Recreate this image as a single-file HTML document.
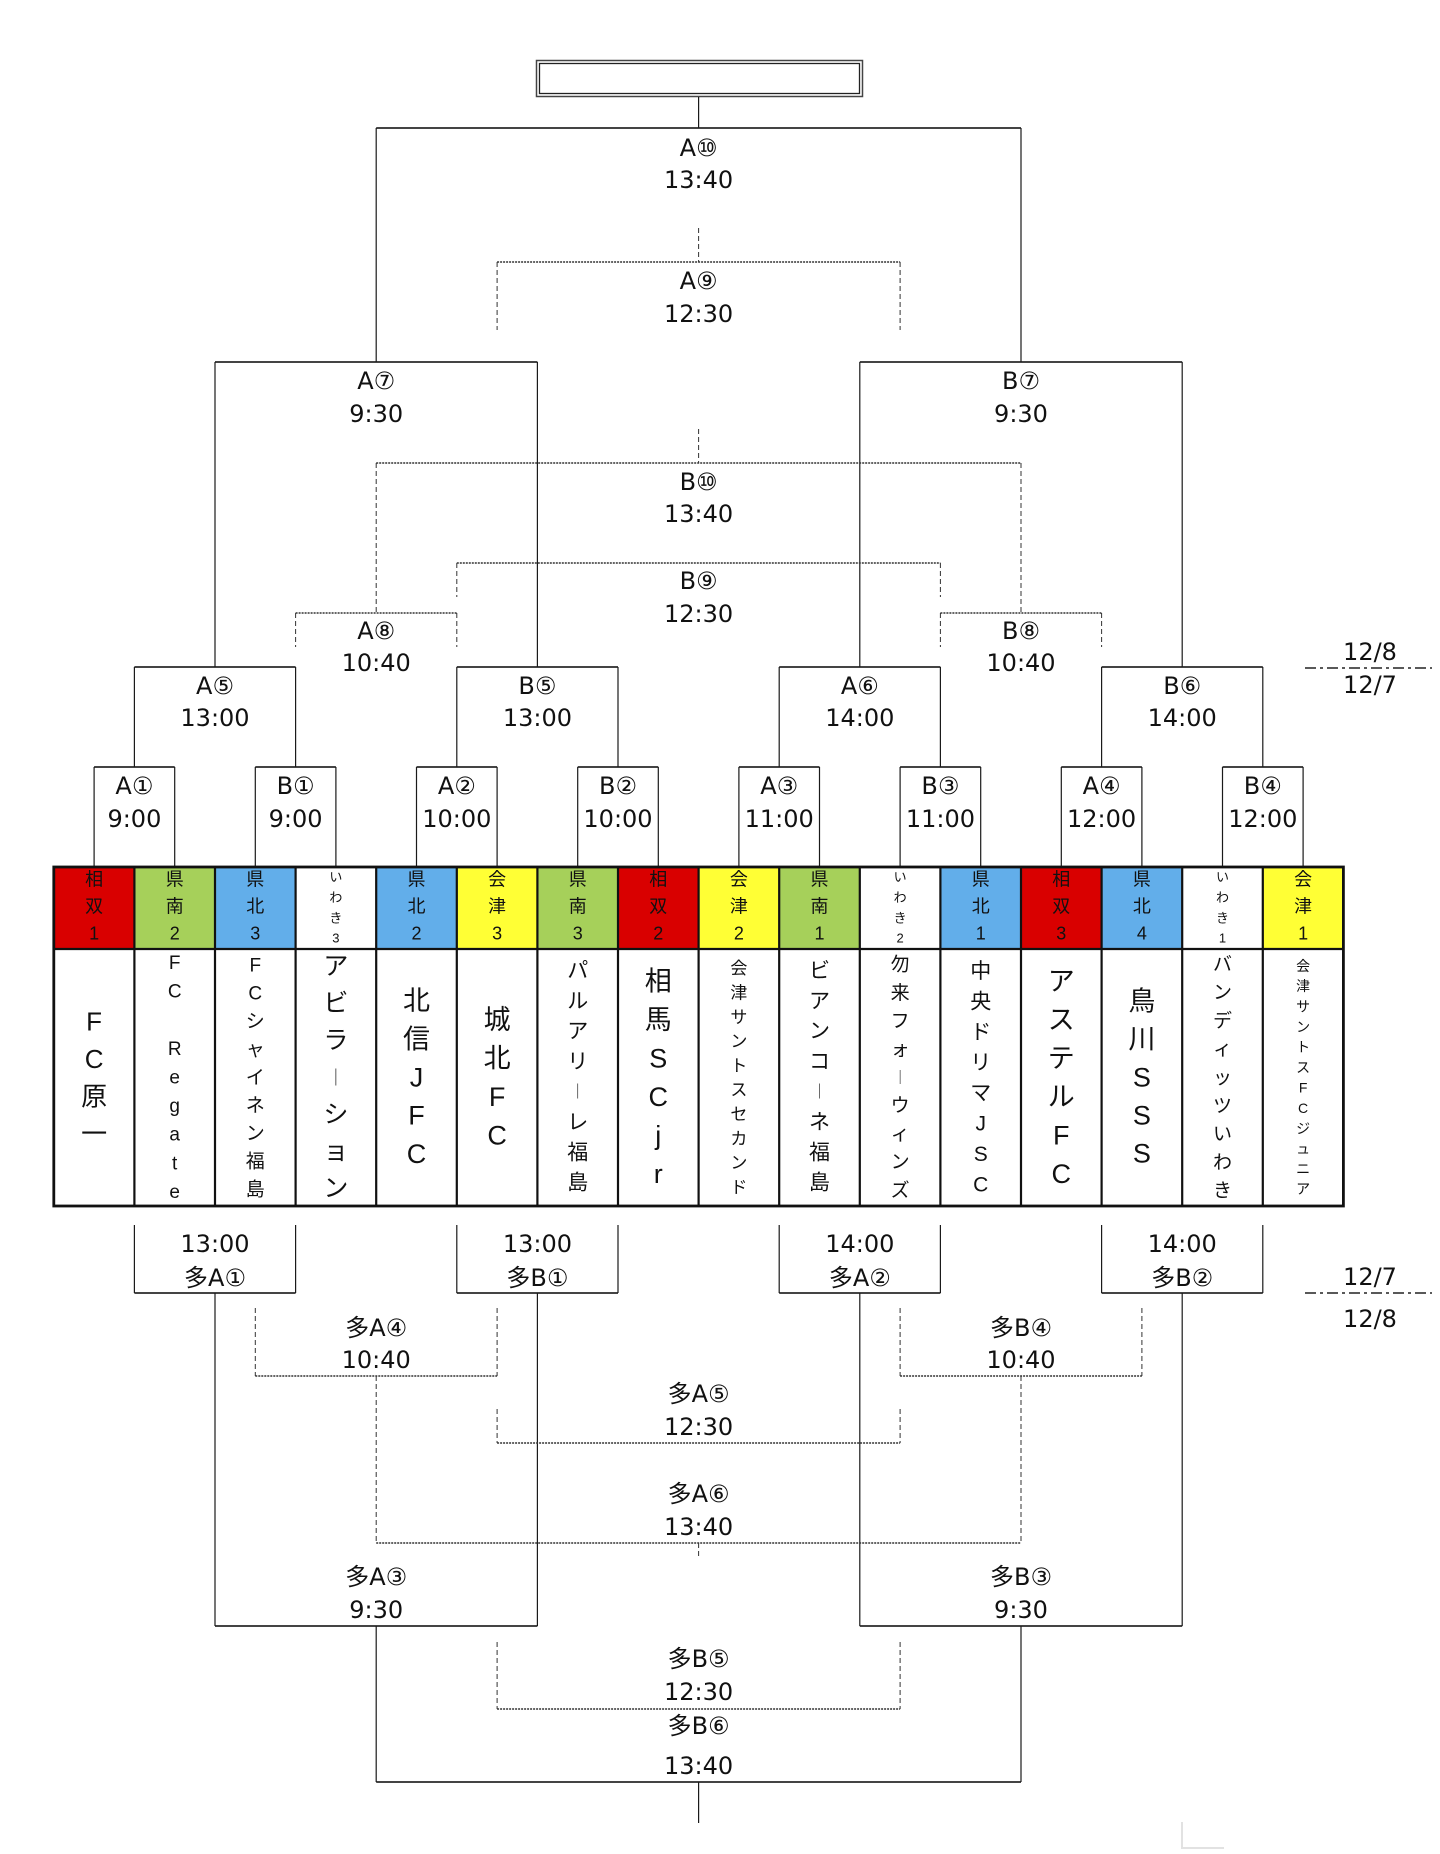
<!DOCTYPE html>
<html><head><meta charset="utf-8"><style>
html,body{margin:0;padding:0;background:#fff;}
svg{display:block;}
.l{font-family:"DejaVu Sans","Noto Sans CJK JP",sans-serif;font-size:24px;fill:#111;text-anchor:middle;}
.h{font-family:"Liberation Sans","Noto Sans CJK JP",sans-serif;font-size:18px;fill:#111;text-anchor:middle;dominant-baseline:central;}
.hs{font-family:"Liberation Sans","Noto Sans CJK JP",sans-serif;font-size:13px;fill:#111;text-anchor:middle;dominant-baseline:central;}
.t{font-family:"Liberation Sans","Noto Sans CJK JP",sans-serif;fill:#111;text-anchor:middle;dominant-baseline:central;}
</style></head><body>
<svg width="1440" height="1854" viewBox="0 0 1440 1854" xmlns="http://www.w3.org/2000/svg">
<rect x="0" y="0" width="1440" height="1854" fill="#fff"/>
<!-- top box -->
<rect x="536.5" y="60.5" width="326" height="36" fill="none" stroke="#444" stroke-width="1.5"/>
<rect x="539.5" y="63.5" width="320" height="30" fill="none" stroke="#222" stroke-width="1.3"/>
<!-- solid horizontals -->
<path fill="none" stroke="#2a2a2a" stroke-width="1.8" d="M376.2 128H1021 M215 362H537.4 M859.8 362H1182.2 M134.4 667H295.6 M456.8 667H618 M779.2 667H940.4 M1101.6 667H1262.8 M94.1 767H174.7 M255.3 767H335.9 M416.5 767H497.1 M577.7 767H658.3 M738.9 767H819.5 M900.1 767H980.7 M1061.3 767H1141.9 M1222.5 767H1303.1 M134.4 1293H295.6 M456.8 1293H618 M779.2 1293H940.4 M1101.6 1293H1262.8 M215 1626H537.4 M859.8 1626H1182.2 M376.2 1782H1021"/>
<!-- solid verticals -->
<path fill="none" stroke="#1a1a1a" stroke-width="1.2" d="M698.6 97V128 M376.2 128V362 M1021 128V362 M215 362V667 M537.4 362V667 M859.8 362V667 M1182.2 362V667 M134.4 667V767 M295.6 667V767 M456.8 667V767 M618 667V767 M779.2 667V767 M940.4 667V767 M1101.6 667V767 M1262.8 667V767 M94.1 767V866 M174.7 767V866 M255.3 767V866 M335.9 767V866 M416.5 767V866 M497.1 767V866 M577.7 767V866 M658.3 767V866 M738.9 767V866 M819.5 767V866 M900.1 767V866 M980.7 767V866 M1061.3 767V866 M1141.9 767V866 M1222.5 767V866 M1303.1 767V866 M134.4 1225V1293 M295.6 1225V1293 M456.8 1225V1293 M618 1225V1293 M779.2 1225V1293 M940.4 1225V1293 M1101.6 1225V1293 M1262.8 1225V1293 M215 1293V1626 M537.4 1293V1626 M859.8 1293V1626 M1182.2 1293V1626 M376.2 1626V1782 M1021 1626V1782 M698.6 1782V1823"/>
<!-- dashed horizontals -->
<path fill="none" stroke="#333" stroke-width="1.6" stroke-dasharray="2 1" d="M497.1 262H900.1 M376.2 463H1021 M456.8 563H940.4 M295.6 613H456.8 M940.4 613H1101.6 M255.3 1376H497.1 M900.1 1376H1141.9 M497.1 1443H900.1 M376.2 1543H1021 M497.1 1709H900.1"/>
<!-- dashed verticals -->
<path fill="none" stroke="#333" stroke-width="1" stroke-dasharray="5 3" d="M698.6 228V262 M497.1 262V330 M900.1 262V330 M698.6 429V463 M376.2 463V613 M1021 463V613 M456.8 563V597 M940.4 563V597 M295.6 613V647 M456.8 613V647 M940.4 613V647 M1101.6 613V647 M255.3 1308V1376 M497.1 1308V1376 M900.1 1308V1376 M1141.9 1308V1376 M376.2 1376V1543 M1021 1376V1543 M497.1 1409V1443 M900.1 1409V1443 M698.6 1543V1559 M497.1 1642V1709 M900.1 1642V1709"/>
<!-- date separators -->
<path fill="none" stroke="#222" stroke-width="1.6" stroke-dasharray="11 4 3 4" d="M1305 668H1432 M1305 1293H1432"/>
<path fill="none" stroke="#e2e2e2" stroke-width="2" d="M1182 1822V1848H1224"/>

<!-- labels upper -->
<text class="l" x="698.6" y="156">A⑩</text><text class="l" x="698.6" y="188">13:40</text>
<text class="l" x="698.6" y="289">A⑨</text><text class="l" x="698.6" y="322">12:30</text>
<text class="l" x="376.2" y="389">A⑦</text><text class="l" x="376.2" y="422">9:30</text>
<text class="l" x="1021" y="389">B⑦</text><text class="l" x="1021" y="422">9:30</text>
<text class="l" x="698.6" y="490">B⑩</text><text class="l" x="698.6" y="522">13:40</text>
<text class="l" x="698.6" y="589">B⑨</text><text class="l" x="698.6" y="622">12:30</text>
<text class="l" x="376.2" y="639">A⑧</text><text class="l" x="376.2" y="671">10:40</text>
<text class="l" x="1021" y="639">B⑧</text><text class="l" x="1021" y="671">10:40</text>
<text class="l" x="215" y="694">A⑤</text><text class="l" x="215" y="726">13:00</text>
<text class="l" x="537.4" y="694">B⑤</text><text class="l" x="537.4" y="726">13:00</text>
<text class="l" x="859.8" y="694">A⑥</text><text class="l" x="859.8" y="726">14:00</text>
<text class="l" x="1182.2" y="694">B⑥</text><text class="l" x="1182.2" y="726">14:00</text>
<text class="l" x="134.4" y="794">A①</text><text class="l" x="134.4" y="827">9:00</text>
<text class="l" x="295.6" y="794">B①</text><text class="l" x="295.6" y="827">9:00</text>
<text class="l" x="456.8" y="794">A②</text><text class="l" x="456.8" y="827">10:00</text>
<text class="l" x="618" y="794">B②</text><text class="l" x="618" y="827">10:00</text>
<text class="l" x="779.2" y="794">A③</text><text class="l" x="779.2" y="827">11:00</text>
<text class="l" x="940.4" y="794">B③</text><text class="l" x="940.4" y="827">11:00</text>
<text class="l" x="1101.6" y="794">A④</text><text class="l" x="1101.6" y="827">12:00</text>
<text class="l" x="1262.8" y="794">B④</text><text class="l" x="1262.8" y="827">12:00</text>
<text class="l" x="1370" y="660">12/8</text><text class="l" x="1370" y="693">12/7</text>

<!-- labels lower -->
<text class="l" x="215" y="1252">13:00</text><text class="l" x="215" y="1286">多A①</text>
<text class="l" x="537.4" y="1252">13:00</text><text class="l" x="537.4" y="1286">多B①</text>
<text class="l" x="859.8" y="1252">14:00</text><text class="l" x="859.8" y="1286">多A②</text>
<text class="l" x="1182.2" y="1252">14:00</text><text class="l" x="1182.2" y="1286">多B②</text>
<text class="l" x="376.2" y="1336">多A④</text><text class="l" x="376.2" y="1368">10:40</text>
<text class="l" x="1021" y="1336">多B④</text><text class="l" x="1021" y="1368">10:40</text>
<text class="l" x="698.6" y="1402">多A⑤</text><text class="l" x="698.6" y="1435">12:30</text>
<text class="l" x="698.6" y="1502">多A⑥</text><text class="l" x="698.6" y="1535">13:40</text>
<text class="l" x="376.2" y="1585">多A③</text><text class="l" x="376.2" y="1618">9:30</text>
<text class="l" x="1021" y="1585">多B③</text><text class="l" x="1021" y="1618">9:30</text>
<text class="l" x="698.6" y="1667">多B⑤</text><text class="l" x="698.6" y="1700">12:30</text>
<text class="l" x="698.6" y="1734">多B⑥</text><text class="l" x="698.6" y="1774">13:40</text>
<text class="l" x="1370" y="1285">12/7</text><text class="l" x="1370" y="1327">12/8</text>

<!-- table header fills -->
<rect x="53.8" y="867" width="80.6" height="82" fill="#d90000"/>
<rect x="134.4" y="867" width="80.6" height="82" fill="#a6d05a"/>
<rect x="215" y="867" width="80.6" height="82" fill="#62aeea"/>
<rect x="295.6" y="867" width="80.6" height="82" fill="#fff"/>
<rect x="376.2" y="867" width="80.6" height="82" fill="#62aeea"/>
<rect x="456.8" y="867" width="80.6" height="82" fill="#ffff35"/>
<rect x="537.4" y="867" width="80.6" height="82" fill="#a6d05a"/>
<rect x="618" y="867" width="80.6" height="82" fill="#d90000"/>
<rect x="698.6" y="867" width="80.6" height="82" fill="#ffff35"/>
<rect x="779.2" y="867" width="80.6" height="82" fill="#a6d05a"/>
<rect x="859.8" y="867" width="80.6" height="82" fill="#fff"/>
<rect x="940.4" y="867" width="80.6" height="82" fill="#62aeea"/>
<rect x="1021" y="867" width="80.6" height="82" fill="#d90000"/>
<rect x="1101.6" y="867" width="80.6" height="82" fill="#62aeea"/>
<rect x="1182.2" y="867" width="80.6" height="82" fill="#fff"/>
<rect x="1262.8" y="867" width="80.6" height="82" fill="#ffff35"/>
<!-- table grid -->
<path fill="none" stroke="#111" stroke-width="2.2" d="M53.8 949H1343.4 M134.4 867V1206 M215 867V1206 M295.6 867V1206 M376.2 867V1206 M456.8 867V1206 M537.4 867V1206 M618 867V1206 M698.6 867V1206 M779.2 867V1206 M859.8 867V1206 M940.4 867V1206 M1021 867V1206 M1101.6 867V1206 M1182.2 867V1206 M1262.8 867V1206"/>
<rect x="53.8" y="867" width="1289.6" height="339" fill="none" stroke="#111" stroke-width="2.8"/>

<!-- header texts -->
<text class="h"><tspan x="94.1" y="879.5">相</tspan><tspan x="94.1" y="906.5">双</tspan><tspan x="94.1" y="933.5">1</tspan></text>
<text class="h"><tspan x="174.7" y="879.5">県</tspan><tspan x="174.7" y="906.5">南</tspan><tspan x="174.7" y="933.5">2</tspan></text>
<text class="h"><tspan x="255.3" y="879.5">県</tspan><tspan x="255.3" y="906.5">北</tspan><tspan x="255.3" y="933.5">3</tspan></text>
<text class="hs"><tspan x="335.9" y="876.7">い</tspan><tspan x="335.9" y="897">わ</tspan><tspan x="335.9" y="917.5">き</tspan><tspan x="335.9" y="937.5">3</tspan></text>
<text class="h"><tspan x="416.5" y="879.5">県</tspan><tspan x="416.5" y="906.5">北</tspan><tspan x="416.5" y="933.5">2</tspan></text>
<text class="h"><tspan x="497.1" y="879.5">会</tspan><tspan x="497.1" y="906.5">津</tspan><tspan x="497.1" y="933.5">3</tspan></text>
<text class="h"><tspan x="577.7" y="879.5">県</tspan><tspan x="577.7" y="906.5">南</tspan><tspan x="577.7" y="933.5">3</tspan></text>
<text class="h"><tspan x="658.3" y="879.5">相</tspan><tspan x="658.3" y="906.5">双</tspan><tspan x="658.3" y="933.5">2</tspan></text>
<text class="h"><tspan x="738.9" y="879.5">会</tspan><tspan x="738.9" y="906.5">津</tspan><tspan x="738.9" y="933.5">2</tspan></text>
<text class="h"><tspan x="819.5" y="879.5">県</tspan><tspan x="819.5" y="906.5">南</tspan><tspan x="819.5" y="933.5">1</tspan></text>
<text class="hs"><tspan x="900.1" y="876.7">い</tspan><tspan x="900.1" y="897">わ</tspan><tspan x="900.1" y="917.5">き</tspan><tspan x="900.1" y="937.5">2</tspan></text>
<text class="h"><tspan x="980.7" y="879.5">県</tspan><tspan x="980.7" y="906.5">北</tspan><tspan x="980.7" y="933.5">1</tspan></text>
<text class="h"><tspan x="1061.3" y="879.5">相</tspan><tspan x="1061.3" y="906.5">双</tspan><tspan x="1061.3" y="933.5">3</tspan></text>
<text class="h"><tspan x="1141.9" y="879.5">県</tspan><tspan x="1141.9" y="906.5">北</tspan><tspan x="1141.9" y="933.5">4</tspan></text>
<text class="hs"><tspan x="1222.5" y="876.7">い</tspan><tspan x="1222.5" y="897">わ</tspan><tspan x="1222.5" y="917.5">き</tspan><tspan x="1222.5" y="937.5">1</tspan></text>
<text class="h"><tspan x="1303.1" y="879.5">会</tspan><tspan x="1303.1" y="906.5">津</tspan><tspan x="1303.1" y="933.5">1</tspan></text>

<!-- team names -->
<text class="t" style="font-size:26px"><tspan x="94.1" y="1021.3">F</tspan><tspan x="94.1" y="1058.8">C</tspan><tspan x="94.1" y="1096.3">原</tspan><tspan x="94.1" y="1133.8">一</tspan></text>
<text class="t" style="font-size:19px"><tspan x="174.7" y="963.1">F</tspan><tspan x="174.7" y="991.7">C</tspan><tspan x="174.7" y="1048.9">R</tspan><tspan x="174.7" y="1077.5">e</tspan><tspan x="174.7" y="1106.1">g</tspan><tspan x="174.7" y="1134.7">a</tspan><tspan x="174.7" y="1163.3">t</tspan><tspan x="174.7" y="1191.9">e</tspan></text>
<text class="t" style="font-size:19px"><tspan x="255.3" y="965.5">F</tspan><tspan x="255.3" y="993.5">C</tspan><tspan x="255.3" y="1021.5">シ</tspan><tspan x="255.3" y="1049.5">ャ</tspan><tspan x="255.3" y="1077.5">イ</tspan><tspan x="255.3" y="1105.5">ネ</tspan><tspan x="255.3" y="1133.5">ン</tspan><tspan x="255.3" y="1161.5">福</tspan><tspan x="255.3" y="1189.5">島</tspan></text>
<text class="t" style="font-size:25px"><tspan x="335.9" y="966.5">ア</tspan><tspan x="335.9" y="1003.5">ビ</tspan><tspan x="335.9" y="1040.5">ラ</tspan><tspan x="335.9" y="1077.5" style="font-size:17px">｜</tspan><tspan x="335.9" y="1114.5">シ</tspan><tspan x="335.9" y="1151.5">ョ</tspan><tspan x="335.9" y="1188.5">ン</tspan></text>
<text class="t" style="font-size:27px"><tspan x="416.5" y="1001.1">北</tspan><tspan x="416.5" y="1039.3">信</tspan><tspan x="416.5" y="1077.5">J</tspan><tspan x="416.5" y="1115.7">F</tspan><tspan x="416.5" y="1153.9">C</tspan></text>
<text class="t" style="font-size:27px"><tspan x="497.1" y="1019.8">城</tspan><tspan x="497.1" y="1058.3">北</tspan><tspan x="497.1" y="1096.8">F</tspan><tspan x="497.1" y="1135.3">C</tspan></text>
<text class="t" style="font-size:21px"><tspan x="577.7" y="970.5">パ</tspan><tspan x="577.7" y="1000.8">ル</tspan><tspan x="577.7" y="1031.1">ア</tspan><tspan x="577.7" y="1061.4">リ</tspan><tspan x="577.7" y="1091.7" style="font-size:15px">｜</tspan><tspan x="577.7" y="1122">レ</tspan><tspan x="577.7" y="1152.3">福</tspan><tspan x="577.7" y="1182.6">島</tspan></text>
<text class="t" style="font-size:27px"><tspan x="658.3" y="981.3">相</tspan><tspan x="658.3" y="1019.8">馬</tspan><tspan x="658.3" y="1058.3">S</tspan><tspan x="658.3" y="1096.8">C</tspan><tspan x="658.3" y="1135.3">j</tspan><tspan x="658.3" y="1173.8">r</tspan></text>
<text class="t" style="font-size:17px"><tspan x="738.9" y="968.2">会</tspan><tspan x="738.9" y="992.5">津</tspan><tspan x="738.9" y="1016.8">サ</tspan><tspan x="738.9" y="1041.1">ン</tspan><tspan x="738.9" y="1065.4">ト</tspan><tspan x="738.9" y="1089.7">ス</tspan><tspan x="738.9" y="1114">セ</tspan><tspan x="738.9" y="1138.3">カ</tspan><tspan x="738.9" y="1162.6">ン</tspan><tspan x="738.9" y="1186.9">ド</tspan></text>
<text class="t" style="font-size:21px"><tspan x="819.5" y="970.5">ビ</tspan><tspan x="819.5" y="1000.8">ア</tspan><tspan x="819.5" y="1031.1">ン</tspan><tspan x="819.5" y="1061.4">コ</tspan><tspan x="819.5" y="1091.7" style="font-size:15px">｜</tspan><tspan x="819.5" y="1122">ネ</tspan><tspan x="819.5" y="1152.3">福</tspan><tspan x="819.5" y="1182.6">島</tspan></text>
<text class="t" style="font-size:19px"><tspan x="900.1" y="964.7">勿</tspan><tspan x="900.1" y="992.9">来</tspan><tspan x="900.1" y="1021.1">フ</tspan><tspan x="900.1" y="1049.3">ォ</tspan><tspan x="900.1" y="1077.5" style="font-size:14px">｜</tspan><tspan x="900.1" y="1105.7">ウ</tspan><tspan x="900.1" y="1133.9">ィ</tspan><tspan x="900.1" y="1162.1">ン</tspan><tspan x="900.1" y="1190.3">ズ</tspan></text>
<text class="t" style="font-size:21px"><tspan x="980.7" y="970.8">中</tspan><tspan x="980.7" y="1001.3">央</tspan><tspan x="980.7" y="1031.8">ド</tspan><tspan x="980.7" y="1062.3">リ</tspan><tspan x="980.7" y="1092.8">マ</tspan><tspan x="980.7" y="1123.3">J</tspan><tspan x="980.7" y="1153.8">S</tspan><tspan x="980.7" y="1184.3">C</tspan></text>
<text class="t" style="font-size:27px"><tspan x="1061.3" y="981.3">ア</tspan><tspan x="1061.3" y="1019.8">ス</tspan><tspan x="1061.3" y="1058.3">テ</tspan><tspan x="1061.3" y="1096.8">ル</tspan><tspan x="1061.3" y="1135.3">F</tspan><tspan x="1061.3" y="1173.8">C</tspan></text>
<text class="t" style="font-size:27px"><tspan x="1141.9" y="1001.5">鳥</tspan><tspan x="1141.9" y="1039.5">川</tspan><tspan x="1141.9" y="1077.5">S</tspan><tspan x="1141.9" y="1115.5">S</tspan><tspan x="1141.9" y="1153.5">S</tspan></text>
<text class="t" style="font-size:19px"><tspan x="1222.5" y="964.3">バ</tspan><tspan x="1222.5" y="992.6">ン</tspan><tspan x="1222.5" y="1020.9">デ</tspan><tspan x="1222.5" y="1049.2">ィ</tspan><tspan x="1222.5" y="1077.5">ッ</tspan><tspan x="1222.5" y="1105.8">ツ</tspan><tspan x="1222.5" y="1134.1">い</tspan><tspan x="1222.5" y="1162.4">わ</tspan><tspan x="1222.5" y="1190.7">き</tspan></text>
<text class="t" style="font-size:14px"><tspan x="1303.1" y="965.9">会</tspan><tspan x="1303.1" y="986.2">津</tspan><tspan x="1303.1" y="1006.5">サ</tspan><tspan x="1303.1" y="1026.8">ン</tspan><tspan x="1303.1" y="1047.1">ト</tspan><tspan x="1303.1" y="1067.4">ス</tspan><tspan x="1303.1" y="1087.7">F</tspan><tspan x="1303.1" y="1108">C</tspan><tspan x="1303.1" y="1128.3">ジ</tspan><tspan x="1303.1" y="1148.6">ュ</tspan><tspan x="1303.1" y="1168.9">ニ</tspan><tspan x="1303.1" y="1189.2">ア</tspan></text>
</svg>
</body></html>
